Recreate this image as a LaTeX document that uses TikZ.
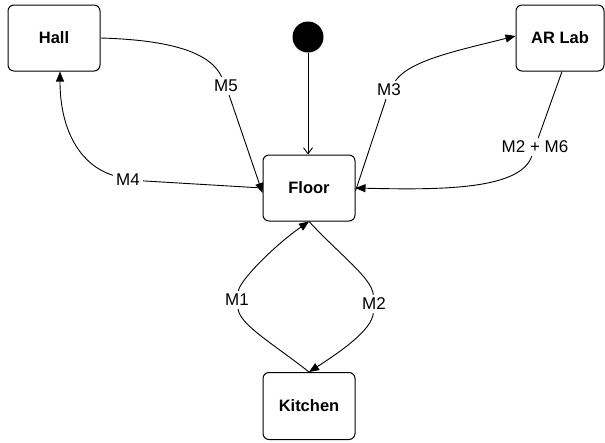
\documentclass[tikz,border=0pt]{standalone}
\usepackage{fontspec}
\setmainfont{Liberation Sans}
\usetikzlibrary{arrows.meta}
\begin{document}
\begin{tikzpicture}[x=1pt,y=-1pt,
  state/.style={draw,line width=1pt,rounded corners=6pt,minimum width=92pt,minimum height=66pt,font=\fontsize{16.5}{18}\selectfont\bfseries,inner sep=0pt},
  lbl/.style={font=\fontsize{17}{19}\selectfont,inner sep=3pt},
  conn/.style={line width=0.9pt},
  arr/.style={conn,-{Triangle[length=10pt,width=8pt]}}]
\useasboundingbox (0,0) rectangle (605,442);
\node[state] (hall) at (54,38) {Hall};
\node[state,minimum width=88pt] (lab) at (560,38) {AR Lab};
\node[state] (floor) at (309,188) {Floor};
\node[state,minimum height=67pt] (kitchen) at (309,406) {Kitchen};
\node[circle,fill=black,minimum size=31pt,inner sep=0pt] (init) at (308,37) {};
\node[lbl] (m5) at (226,86) {M5};
\node[lbl] (m4) at (128,180) {M4};
\node[lbl] (m3) at (389,90) {M3};
\node[lbl] (m26) at (535,147) {M2 + M6};
\node[lbl] (m1) at (237,300) {M1};
\node[lbl] (m2) at (374,304) {M2};
% initial
\draw[conn,-{Straight Barb[length=6pt,width=9pt]}] (init) -- (init |- floor.north);
% M5
\draw[conn] (hall.east) .. controls (170,40) and (210,52) .. (m5);
\draw[arr] (m5) -- ([yshift=-5pt]floor.west);
% M4
\draw[conn] (floor.west) -- (m4);
\draw[arr] (m4) .. controls (80,165) and (60,130) .. ([xshift=6pt]hall.south);
% M3
\draw[conn] ([yshift=-3pt]floor.east) -- (m3);
\draw[arr] (m3) .. controls (410,60) and (460,50) .. ([yshift=2pt]lab.west);
% M2+M6
\draw[conn] ([xshift=2pt]lab.south) -- (m26);
\draw[arr] (m26) .. controls (520,190) and (440,190) .. (floor.east);
% M1
\draw[conn] (kitchen.north) .. controls (275,345) and (240,325) .. (m1);
\draw[arr] (m1) .. controls (240,280) and (275,245) .. (floor.south);
% M2
\draw[conn] (floor.south) .. controls (340,255) and (372,278) .. (m2);
\draw[arr] (m2) .. controls (372,330) and (340,352) .. (kitchen.north);
\end{tikzpicture}
\end{document}
